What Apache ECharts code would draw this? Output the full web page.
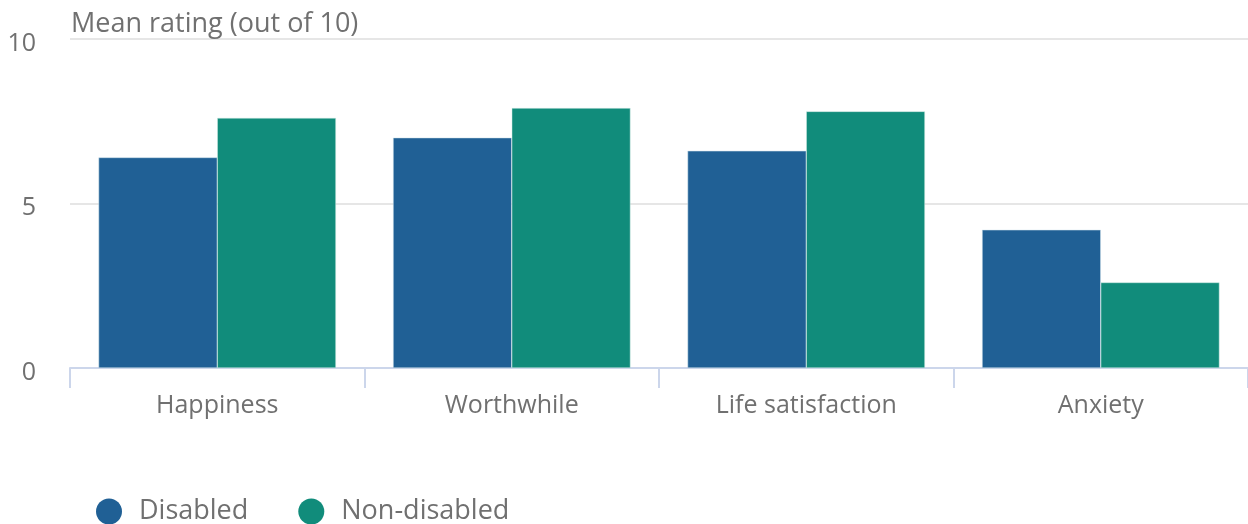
<!DOCTYPE html>
<html><head><meta charset="utf-8">
<script src="https://cdn.jsdelivr.net/npm/echarts@6/dist/echarts.min.js"></script>
<style>html,body{margin:0;padding:0;background:#fff}#c{width:1248px;height:524px}</style>
</head><body><div id="c"></div>
<script>
const categories = ["Happiness", "Worthwhile", "Life satisfaction", "Anxiety"];
const disabled = [6.4, 7.0, 6.6, 4.2];
const nonDisabled = [7.6, 7.9, 7.8, 2.6];
const yTicks = [0, 5, 10];
const titleText = "Mean rating (out of 10)";

const chart = echarts.init(document.getElementById('c'));
const font = "'Open Sans', sans-serif";
chart.setOption({
  animation: false,
  title: { text: titleText, left: 66, top: 6, textStyle: { fontFamily: font, fontSize: 27, fontWeight: 'normal', color: '#707070' } },
  grid: { left: 70, right: -2, top: 39, bottom: 156, containLabel: false },
  legend: {
    data: ['Disabled', 'Non-disabled'], left: 91, top: 493, icon: 'circle', itemWidth: 26, itemHeight: 26, itemGap: 50,
    itemStyle: { borderWidth: 0 },
    textStyle: { fontFamily: font, fontSize: 27, color: '#707070', padding: [6, 0, 0, 12] }
  },
  xAxis: {
    type: 'category', data: categories,
    axisLine: { lineStyle: { color: '#ccd6eb', width: 2 } },
    axisTick: { show: true, length: 20, lineStyle: { color: '#ccd6eb', width: 2 } },
    axisLabel: { fontFamily: font, fontSize: 25, color: '#707070', margin: 25 }
  },
  yAxis: {
    type: 'value', min: 0, max: 10, interval: 5,
    axisLabel: {
      margin: 34,
      formatter: v => yTicks.includes(v) ? '{a|' + v + '}' : '',
      rich: { a: { fontFamily: font, fontSize: 25, color: '#707070', padding: [9, 0, 0, 0] } }
    },
    splitLine: { lineStyle: { color: '#e6e6e6', width: 2 } },
    axisLine: { show: false }, axisTick: { show: false }
  },
  series: [
    { name: 'Disabled', type: 'bar', data: disabled, barGap: '0%', barCategoryGap: '19.4%',
      itemStyle: { color: '#206095', borderColor: '#cfe0ea', borderWidth: 0.5 } },
    { name: 'Non-disabled', type: 'bar', data: nonDisabled,
      itemStyle: { color: '#118c7b', borderColor: '#cfe8e2', borderWidth: 0.5 } }
  ]
});
</script></body></html>
